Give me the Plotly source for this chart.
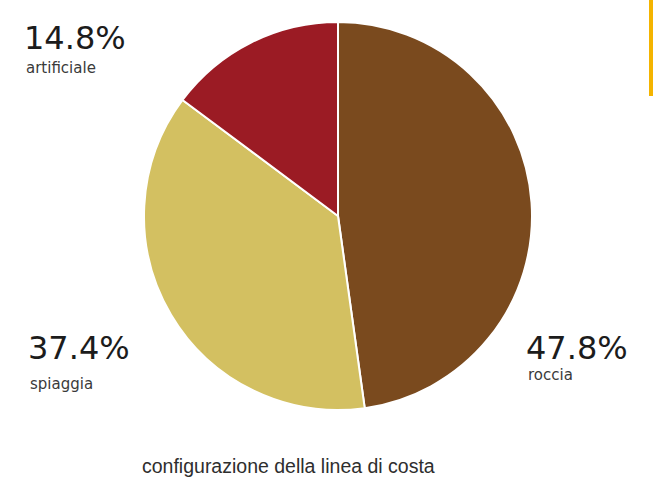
import plotly.graph_objects as go

# Coastline composition
labels = ["roccia", "spiaggia", "artificiale"]
values = [47.8, 37.4, 14.8]
colors = ["#7A4A1E", "#D3C061", "#9B1B24"]
title_text = "configurazione della linea di costa"

W, H = 653, 495

fig = go.Figure(
    go.Pie(
        labels=labels,
        values=values,
        sort=False,
        direction="clockwise",
        rotation=0,
        marker=dict(colors=colors, line=dict(color="white", width=2)),
        textinfo="none",
        hoverinfo="label+percent",
        domain=dict(x=[144 / W, 532 / W], y=[1 - 410 / H, 1 - 22 / H]),
        showlegend=False,
    )
)

# Percent + name labels placed beside each slice
label_pos = {
    "artificiale": (22, 17, 57),
    "spiaggia": (26, 327, 373),
    "roccia": (524, 327, 364),
}
for lab, val in zip(labels, values):
    x, y_pct, y_name = label_pos[lab]
    fig.add_annotation(
        x=x / W, y=1 - y_pct / H, xref="paper", yref="paper",
        xanchor="left", yanchor="top", showarrow=False,
        text=f"{val:.1f}%",
        font=dict(family="DejaVu Sans", size=32, color="#1c1c1c"),
    )
    fig.add_annotation(
        x=(x + 2) / W, y=1 - y_name / H, xref="paper", yref="paper",
        xanchor="left", yanchor="top", showarrow=False,
        text=lab,
        font=dict(family="DejaVu Sans", size=15, color="#3a3a3a"),
    )

fig.add_annotation(
    x=288 / W, y=1 - 466 / H, xref="paper", yref="paper",
    xanchor="center", yanchor="middle", showarrow=False,
    text=title_text,
    font=dict(family="Liberation Sans, Arial", size=19.5, color="#2e2e2e"),
)

# Accent bar on the right edge
fig.add_shape(
    type="rect", xref="paper", yref="paper",
    x0=649 / W, x1=1, y0=1 - 96 / H, y1=1,
    fillcolor="#F4B400", line=dict(width=0),
)

fig.update_layout(
    width=W, height=H,
    margin=dict(l=0, r=0, t=0, b=0),
    paper_bgcolor="white",
    plot_bgcolor="white",
)

fig.write_html("out.html")
